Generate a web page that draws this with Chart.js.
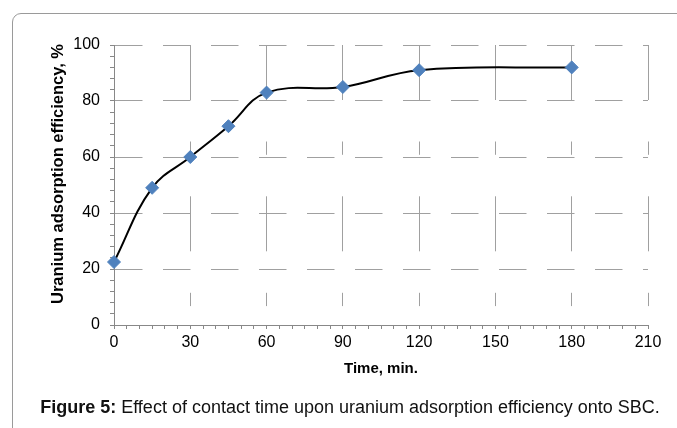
<!DOCTYPE html>
<html><head><meta charset="utf-8">
<script src="https://cdn.jsdelivr.net/npm/chart.js@4"></script>
<style>
html,body{margin:0;padding:0;background:#fff;width:677px;height:428px;overflow:hidden;}
#frame{position:absolute;left:12px;top:13px;width:720px;height:440px;border:1px solid #9a9a9a;border-radius:9px;box-sizing:border-box;}
#wrap{position:absolute;left:0;top:0;width:677px;height:428px;}
#caption{position:absolute;left:0;width:700px;top:397px;text-align:center;font-family:"Liberation Sans",Arial,sans-serif;font-size:18px;color:#111;white-space:nowrap;}
</style></head><body>
<div id="frame"></div>
<div id="wrap"><canvas id="c" width="677" height="428"></canvas></div>
<div id="caption"><b>Figure 5:</b> Effect of contact time upon uranium adsorption efficiency onto SBC.</div>
<script>
const times = [0, 15, 30, 45, 60, 90, 120, 180];
const efficiency = [22.5, 49, 60, 71, 83, 85, 91, 92];
const xTickLabels = [0, 30, 60, 90, 120, 150, 180, 210];
const yTickLabels = [0, 20, 40, 60, 80, 100];
const xTitle = 'Time, min.';
const yTitle = 'Uranium adsorption efficiency, %';

const FONT = '"Liberation Sans", Arial, sans-serif';
const points = times.map((t, i) => ({x: t, y: efficiency[i]}));

// y-axis title drawn slightly above the plot centre, as in the reference
const yTitlePlugin = {
  id: 'yTitle',
  afterDraw(chart) {
    const ctx = chart.ctx;
    ctx.save();
    ctx.translate(58, 174);
    ctx.rotate(-Math.PI / 2);
    ctx.font = 'bold 16.5px ' + FONT;
    ctx.fillStyle = '#000';
    ctx.textAlign = 'center';
    ctx.textBaseline = 'middle';
    ctx.fillText(yTitle, 0, 0);
    ctx.restore();
  }
};

new Chart(document.getElementById('c'), {
  type: 'line',
  data: {
    datasets: [{
      data: points,
      borderColor: '#000',
      borderWidth: 2,
      tension: 0.4,
      fill: false,
      clip: false,
      pointStyle: 'rectRot',
      pointRadius: 6.5,
      pointBackgroundColor: '#4f81bd',
      pointBorderColor: '#4f81bd',
      pointBorderWidth: 1
    }]
  },
  plugins: [yTitlePlugin],
  options: {
    responsive: false,
    animation: false,
    devicePixelRatio: 1,
    layout: {padding: {left: 50, right: 29, top: 45, bottom: 49}},
    plugins: {legend: {display: false}, tooltip: {enabled: false}},
    scales: {
      x: {
        type: 'linear',
        min: xTickLabels[0],
        max: xTickLabels[xTickLabels.length - 1],
        afterFit: s => { s.height = 54; },
        ticks: {
          stepSize: 5, autoSkip: false, maxRotation: 0,
          callback: v => xTickLabels.includes(v) ? String(v) : '',
          font: {family: FONT, size: 16}, color: '#000', padding: 4
        },
        grid: {
          color: c => (c.tick && xTickLabels.includes(c.tick.value)) ? '#a0a0a0' : 'rgba(0,0,0,0)',
          tickColor: '#888', tickLength: 4, lineWidth: 1
        },
        border: {display: true, color: '#888', width: 1, dash: [55, 41.5, 13.3, 41.5]},
        title: {display: true, text: xTitle, font: {family: FONT, size: 15, weight: 'bold'}, color: '#000', padding: {top: 0, bottom: 1}}
      },
      y: {
        min: yTickLabels[0],
        max: yTickLabels[yTickLabels.length - 1],
        afterFit: s => { s.width = 64; },
        ticks: {
          stepSize: 4, autoSkip: false,
          callback: v => yTickLabels.includes(v) ? String(v) : '',
          font: {family: FONT, size: 16}, color: '#000', padding: 10
        },
        grid: {
          color: c => (c.tick && yTickLabels.includes(c.tick.value)) ? '#a0a0a0' : 'rgba(0,0,0,0)',
          tickColor: '#888', tickLength: 4, lineWidth: 1
        },
        border: {display: true, color: '#888', width: 1, dash: [27.5, 20.5]},
        title: {display: false}
      }
    }
  }
});
</script>
</body></html>
